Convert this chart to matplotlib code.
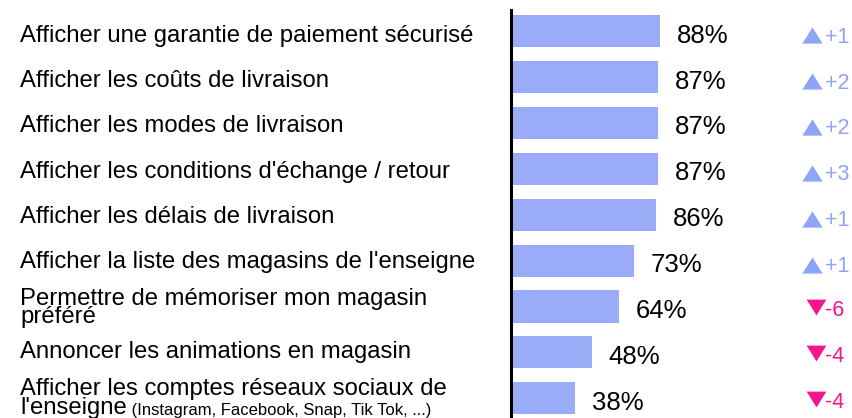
import matplotlib.pyplot as plt
from matplotlib import transforms

plt.rcParams['font.family'] = ['Liberation Sans', 'DejaVu Sans']

labels = [
    "Afficher une garantie de paiement sécurisé",
    "Afficher les coûts de livraison",
    "Afficher les modes de livraison",
    "Afficher les conditions d'échange / retour",
    "Afficher les délais de livraison",
    "Afficher la liste des magasins de l'enseigne",
    "Permettre de mémoriser mon magasin\npréféré",
    "Annoncer les animations en magasin",
    "Afficher les comptes réseaux sociaux de\nl'enseigne",
]
notes = ["", "", "", "", "", "", "", "", "(Instagram, Facebook, Snap, Tik Tok, ...)"]
values = [88, 87, 87, 87, 86, 73, 64, 48, 38]
deltas = [1, 2, 2, 3, 1, 1, -6, -4, -4]

BAR_COLOR = '#9AABF7'
UP_COLOR = '#8FA4F5'
DOWN_COLOR = '#F5158F'

W, H = 853, 418
fig = plt.figure(figsize=(W / 100, H / 100), dpi=100)
ax = fig.add_axes([511 / W, 0, 342 / W, 408 / H])

n = len(values)
y = list(range(n))
ax.barh(y, values, height=0.7, color=BAR_COLOR)
ax.set_xlim(0, 342 / 1.69)
ax.set_ylim(8.43, -0.46)
PX = 408 / (8.43 + 0.46)  # pixels per row

for s in ['top', 'right', 'bottom']:
    ax.spines[s].set_visible(False)
ax.spines['left'].set_linewidth(2.2)
ax.set_xticks([])
ax.set_yticks([])

# value labels
for i, v in enumerate(values):
    ax.annotate(f'{v}%', xy=(v, i + 11.5 / PX), xytext=(12, 0), textcoords='offset points',
                va='baseline', ha='left', fontsize=18.5)

# category labels, placed in figure pixels (baseline from top)
def fy(px):
    return 1 - px / H

for i, lab in enumerate(labels):
    base = 42 + 45.2 * i
    lines = lab.split('\n')
    if len(lines) == 1:
        fig.text(20 / W, fy(base), lab, va='baseline', ha='left', fontsize=17.2)
    else:
        fig.text(20 / W, fy(base - 8.5), lines[0], va='baseline', ha='left', fontsize=17.2)
        t2 = fig.text(20 / W, fy(base + 10), lines[1], va='baseline', ha='left', fontsize=17.2)
        if notes[i]:
            ax.annotate(' ' + notes[i], xy=(1, 0), xycoords=t2, xytext=(0, 0.5),
                        textcoords='offset points', va='bottom', ha='left', fontsize=12)

# change vs previous wave
trans = transforms.blended_transform_factory(fig.transFigure, ax.transData)
up_marker = [(-1, -0.8), (1, -0.8), (0, 0.8)]
down_marker = [(-1, 0.8), (1, 0.8), (0, -0.8)]
for i, d in enumerate(deltas):
    if d >= 0:
        num, col = f'+{d}', UP_COLOR
        ax.scatter([812.5 / W], [i + 4 / PX], marker=up_marker, s=14.6 ** 2,
                   color=col, linewidths=0, transform=trans, clip_on=False)
        yb = i + 11.5 / PX
    else:
        num, col = f'{d}', DOWN_COLOR
        ax.scatter([816 / W], [i + 0.5 / PX], marker=down_marker, s=14.2 ** 2,
                   color=col, linewidths=0, transform=trans, clip_on=False)
        yb = i + 9.5 / PX
    ax.text(825 / W, yb, num, transform=trans, va='baseline', ha='left',
            fontsize=15.5, color=col)

fig.savefig('out.png', dpi=100)
